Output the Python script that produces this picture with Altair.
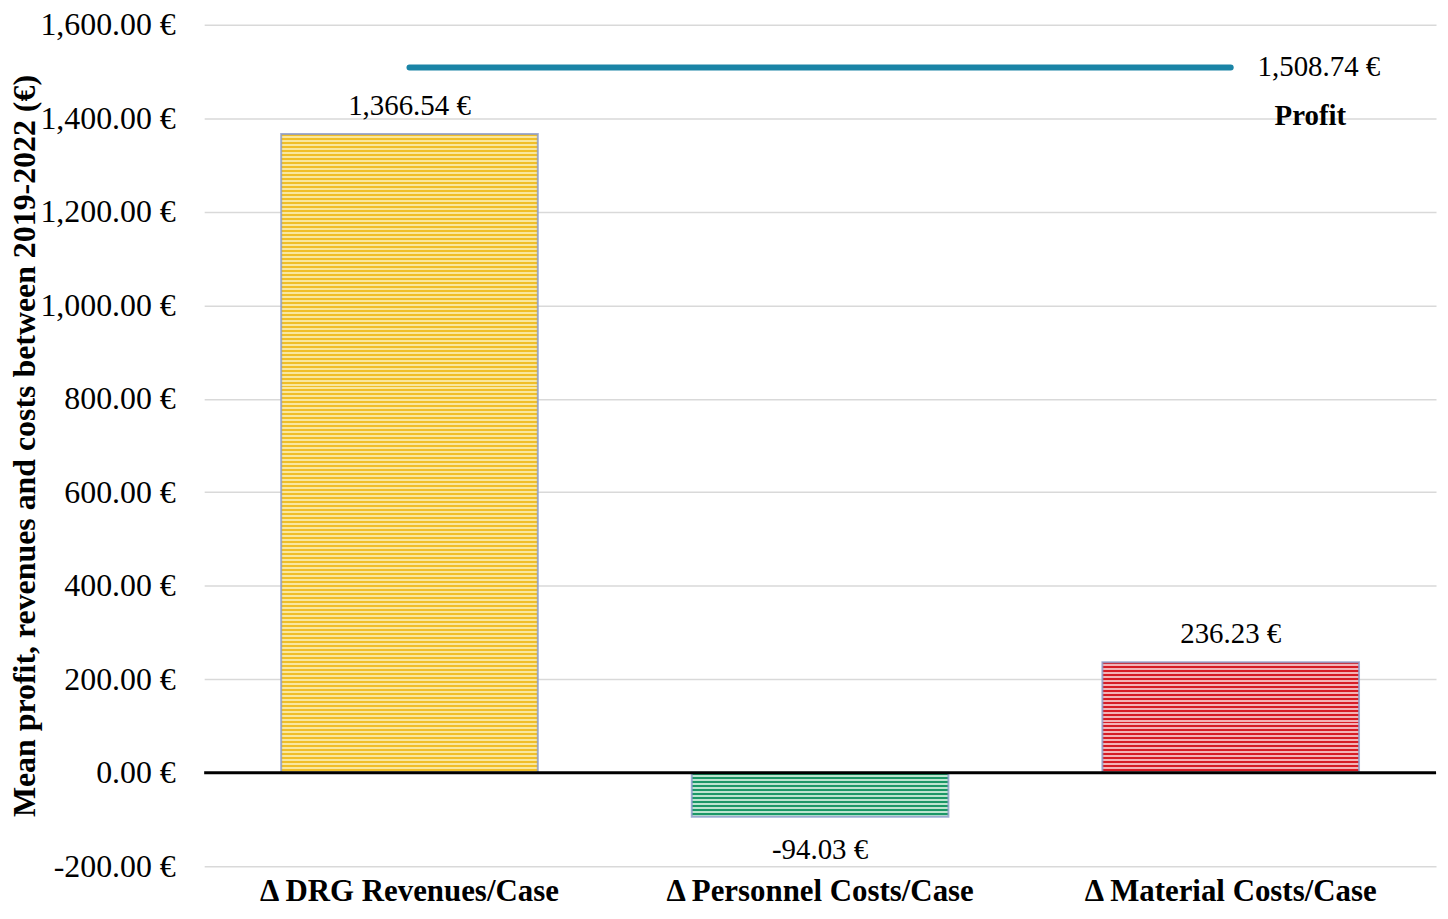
import altair as alt
import pandas as pd

categories = ["Δ DRG Revenues/Case", "Δ Personnel Costs/Case", "Δ Material Costs/Case"]
values = [1366.54, -94.03, 236.23]
profit_value = 1508.74
profit_label = "Profit"

stripe_colors = {
    categories[0]: ("#F0BE28", "#F9E79E"),
    categories[1]: ("#1B9766", "#BCE4CF"),
    categories[2]: ("#D61C25", "#F3B3B6"),
}

FONT = "Liberation Serif"
PLOT_W, PLOT_H = 1237, 845
PX_PER_UNIT = PLOT_H / 1800

df = pd.DataFrame({"cat": categories, "value": values})
df["label"] = [f"{v:,.2f} €" for v in values]
profit_df = pd.DataFrame({"cat": [categories[0], categories[2]], "value": [profit_value, profit_value]})
profit_text = pd.DataFrame({"cat": [categories[2]], "value": [profit_value],
                            "label": [f"{profit_value:,.2f} €"], "name": [profit_label]})

xscale = alt.Scale(domain=categories, paddingInner=0.375, paddingOuter=0.1875)
yscale = alt.Scale(domain=[-200, 1600], nice=False)

x = alt.X("cat:N", scale=xscale, sort=categories,
          axis=alt.Axis(title=None, labelAngle=0, labelFont=FONT, labelFontSize=31,
                        labelFontWeight="bold", labelColor="black", labelPadding=10,
                        ticks=False, domain=False, labelLimit=500))
y = alt.Y("value:Q", scale=yscale,
          axis=alt.Axis(title="Mean profit, revenues and costs between 2019-2022 (€)",
                        values=list(range(-200, 1601, 200)),
                        labelExpr="replace(format(datum.value, ',.2f'), '\u2212', '-') + ' €'",
                        labelFont=FONT, labelFontSize=32, labelColor="black",
                        labelPadding=29, ticks=False, domain=False,
                        titleFont=FONT, titleFontSize=32, titleFontWeight="bold",
                        titleColor="black", titleAngle=270, titleBaseline="middle",
                        titleX=-180, titleY=PLOT_H / 2,
                        gridColor="#d9d9d9", gridWidth=1.5))

def stripes(c1, c2, n):
    stops = []
    for k in range(n):
        a = k / n
        m = (k + 0.5) / n
        b = (k + 1) / n
        stops += [alt.GradientStop(offset=a, color=c1), alt.GradientStop(offset=m, color=c1),
                  alt.GradientStop(offset=m, color=c2), alt.GradientStop(offset=b, color=c2)]
    return alt.LinearGradient(gradient="linear", stops=stops, x1=0, x2=0, y1=0, y2=1)

xs = alt.X("cat:N", scale=xscale, sort=categories)
ys = alt.Y("value:Q", scale=yscale)

base = alt.Chart(df)
bar_layers = []
for cat, v in zip(categories, values):
    n = max(3, round(abs(v) * PX_PER_UNIT / 4))
    c1, c2 = stripe_colors[cat]
    bar_layers.append(
        base.transform_filter(alt.datum.cat == cat)
        .mark_bar(color=stripes(c1, c2, n), stroke="#8A9AC8", strokeWidth=2, strokeOpacity=0.8)
        .encode(x=x, y=y)
    )

zero = alt.Chart(pd.DataFrame({"value": [0]})).mark_rule(color="black", strokeWidth=3).encode(y=ys)

pos_text = base.transform_filter(alt.datum.value >= 0).mark_text(
    font=FONT, fontSize=29, color="black", baseline="alphabetic", dy=-19
).encode(x=xs, y=ys, text="label:N")
neg_text = base.transform_filter(alt.datum.value < 0).mark_text(
    font=FONT, fontSize=29, color="black", baseline="alphabetic", dy=42
).encode(x=xs, y=ys, text="label:N")

profit_line = alt.Chart(profit_df).mark_line(color="#1A84A6", strokeWidth=6, strokeCap="round").encode(x=xs, y=ys)

profit_val_text = alt.Chart(profit_text).mark_text(
    font=FONT, fontSize=29, color="black", align="left", baseline="middle", dx=27
).encode(x=xs, y=ys, text="label:N")
profit_name_text = alt.Chart(profit_text).mark_text(
    font=FONT, fontSize=29, fontWeight="bold", color="black", align="center", baseline="middle", dx=80, dy=49
).encode(x=xs, y=ys, text="name:N")

chart = alt.layer(*bar_layers, zero, pos_text, neg_text, profit_line, profit_val_text, profit_name_text).properties(
    width=PLOT_W, height=PLOT_H,
    padding={"left": 197, "top": 15, "right": 4, "bottom": 42},
    autosize=alt.AutoSizeParams(type="none"),
    background="white",
).configure_view(strokeWidth=0, stroke=None)

chart.save("out.html", embed_options={"renderer": "svg", "actions": False})
